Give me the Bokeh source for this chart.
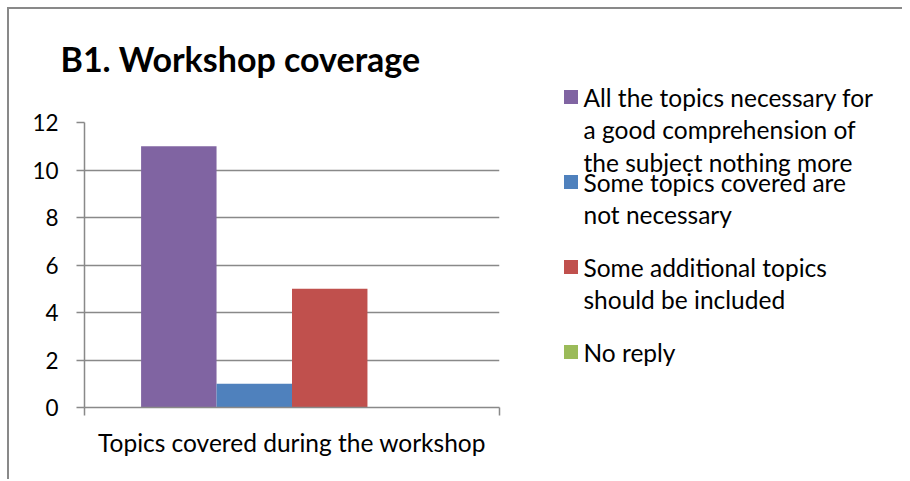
from bokeh.plotting import figure
from bokeh.models import ColumnDataSource, Range1d, FixedTicker, Title
from bokeh.layouts import row
from bokeh.embed import file_html
from bokeh.resources import INLINE
from bokeh.core.properties import value

# ---- data ----
title_text = "B1. Workshop coverage"
category = "Topics covered during the workshop"
series = [
    "All the topics necessary for\na good comprehension of\nthe subject nothing more",
    "Some topics covered are\nnot necessary",
    "Some additional topics\nshould be included",
    "No reply",
]
counts = [11, 1, 5, 0]
colors = ["#8064A2", "#4F81BD", "#C0504D", "#9BBB59"]
y_ticks = [0, 2, 4, 6, 8, 10, 12]

# ---- style ----
FONT = "Lato"
GRAY = "#898989"
GAP = 1.5  # gap width relative to bar width (Excel-like)

n = len(series)
bar_w = 1.0 / (n + GAP)
xs = [0.5 + (i - (n - 1) / 2) * bar_w for i in range(n)]

src = ColumnDataSource(dict(
    x=xs, top=counts, color=colors,
    name=[s.replace("\n", " ") for s in series],
))

H = 470
p = figure(width=531, height=H, x_range=Range1d(0, 1), y_range=Range1d(0, 12),
           output_backend="svg", toolbar_location=None, title=None,
           min_border_left=75, min_border_right=41, min_border_top=113, min_border_bottom=72)
p.frame_align = False
p.vbar(x="x", top="top", bottom=0, width=bar_w, fill_color="color", line_color=None, source=src)

p.outline_line_color = None
p.xgrid.visible = False
p.ygrid.grid_line_color = GRAY
p.ygrid.grid_line_width = 1.5

xa = p.xaxis[0]
xa.ticker = FixedTicker(ticks=[0.5], minor_ticks=[0, 1])
xa.major_label_overrides = {0.5: category}
xa.major_tick_line_color = None
xa.major_tick_out = 8
xa.major_tick_in = 0
xa.minor_tick_out = 8
xa.minor_tick_in = 0
xa.minor_tick_line_color = GRAY
xa.minor_tick_line_width = 1.5
xa.axis_line_color = GRAY
xa.axis_line_width = 1.5
xa.major_label_text_font = FONT
xa.major_label_text_font_size = "24.5px"
xa.major_label_text_color = "black"
xa.major_label_standoff = 12

ya = p.yaxis[0]
ya.ticker = FixedTicker(ticks=y_ticks)
ya.major_tick_out = 8
ya.major_tick_in = 0
ya.major_tick_line_color = GRAY
ya.major_tick_line_width = 1.5
ya.minor_tick_line_color = None
ya.axis_line_color = GRAY
ya.axis_line_width = 1.5
ya.major_label_text_font = FONT
ya.major_label_text_font_size = "22.5px"
ya.major_label_text_color = "black"
ya.major_label_standoff = 18

# spacer between frame and title, then the title itself
spacer = Title(text=" ", text_font_size="1px", standoff=41)
title = Title(text=title_text, text_font=FONT, text_font_style="bold", text_font_size="34px",
              text_color="black", align="left", vertical_align="bottom", offset=-24, standoff=0)
p.add_layout(spacer, "above")
p.add_layout(title, "above")

# ---- legend panel ----
LW = 362
leg = figure(width=LW, height=H, x_range=Range1d(0, LW), y_range=Range1d(H, 0),
             output_backend="svg", toolbar_location=None, min_border=0,
             x_axis_type=None, y_axis_type=None)
leg.frame_align = False
leg.outline_line_color = None
leg.grid.visible = False

ENTRY_TOP = 87.5
ENTRY_PITCH = 85
LINE_PITCH = 32.5
SQ_X = 30.5
TXT_X = 43

sq_y = [ENTRY_TOP + i * ENTRY_PITCH for i in range(n)]
leg.rect(x=[SQ_X] * n, y=sq_y, width=14, height=14, fill_color=colors, line_color=None)

tx, ty, tt = [], [], []
for i, s in enumerate(series):
    for j, line in enumerate(s.split("\n")):
        tx.append(TXT_X)
        ty.append(ENTRY_TOP + i * ENTRY_PITCH + j * LINE_PITCH)
        tt.append(line)
leg.text(x=tx, y=ty, text=tt, text_font=value(FONT), text_font_size="24.5px",
         text_baseline="middle", text_align="left", text_color="black")

layout = row(p, leg, styles={"border-top": "2px solid #898989", "border-left": "2px solid #898989",
                             "margin-top": "7px", "margin-left": "7px"})

open("out.html", "w").write(file_html(layout, INLINE))
